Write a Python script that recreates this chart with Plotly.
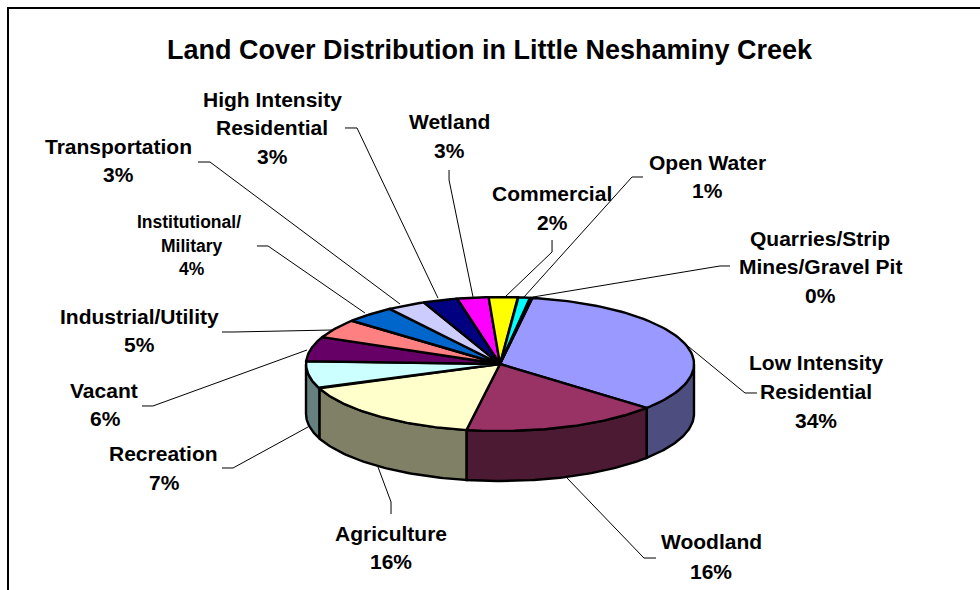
import numpy as np
import plotly.graph_objects as go

categories = ["Low Intensity\nResidential", "Woodland", "Agriculture", "Recreation", "Vacant",
              "Industrial/Utility", "Institutional/\nMilitary", "Transportation",
              "High Intensity\nResidential", "Wetland", "Commercial", "Open Water",
              "Quarries/Strip\nMines/Gravel Pit"]
values = [33.7, 16.4, 16.3, 6.6, 5.9, 4.6, 4.2, 3.2, 2.9, 2.6, 2.4, 1.0, 0.2]
top_colors = ["#9999FF", "#993366", "#FFFFCC", "#CCFFFF", "#660066", "#FF8080", "#0066CC",
              "#CCCCFF", "#000080", "#FF00FF", "#FFFF00", "#00FFFF", "#800080"]
side_colors = ["#4D4D80", "#4D1A33", "#808066", "#668080", "#330033", "#804040", "#003366",
               "#666680", "#000040", "#800080", "#808000", "#008080", "#400040"]

W, H = 980, 590
CX, CY, RX, RY, DEPTH = 500, 364, 194, 67, 50
START = 9.6
label_pos = [
    [(816, 362), (816, 391), (816, 420)],
    [(711, 541), (711, 571)],
    [(391, 533), (391, 561)],
    [(163, 453), (164, 482)],
    [(104, 390), (105, 418)],
    [(139, 316), (139, 344)],
    [(189, 222), (192, 246), (192, 269)],
    [(118, 146), (118, 174)],
    [(272, 99), (272, 127), (272, 156)],
    [(449, 122), (449, 150)],
    [(552, 193), (552, 222)],
    [(707, 162), (707, 190)],
    [(820, 238), (820, 266), (820, 295)],
]
leaders = [
    [(757, 393), (745, 393), (683, 342)],
    [(656, 558), (644, 558), (567, 478)],
    [(391, 514), (391, 502), (378, 467)],
    [(222, 468), (233, 468), (308, 427)],
    [(142, 406), (153, 406), (307, 350)],
    [(222, 332), (234, 332), (333, 330)],
    [(257, 246), (268, 246), (365, 313)],
    [(198, 162), (210, 162), (400, 304)],
    [(345, 128), (357, 128), (438, 298)],
    [(449, 170), (449, 180), (473, 297)],
    [(552, 240), (552, 252), (505, 297)],
    [(643, 177), (632, 177), (524, 297)],
    [(730, 266), (720, 266), (533, 297)],
]

def ex(t):
    return np.sin(np.radians(t))

def ey(t):
    return np.cos(np.radians(t))

edges = START + np.concatenate([[0], np.cumsum(values)]) * 3.6
fig = go.Figure()
LW = 2.4

drop = DEPTH / RY
for i in range(len(values)):
    a, b = max(edges[i], 90), min(edges[i + 1], 270)
    if b <= a:
        continue
    t = np.linspace(a, b, 60)
    xs = np.concatenate([ex(t), ex(t[::-1]), ex(t[:1])])
    ys = np.concatenate([ey(t), ey(t[::-1]) - drop, ey(t[:1])])
    fig.add_trace(go.Scatter(x=xs, y=ys, mode="lines", fill="toself", fillcolor=side_colors[i],
                             line=dict(color="black", width=LW), hoverinfo="skip", showlegend=False))

for i in range(len(values)):
    t = np.linspace(edges[i], edges[i + 1], 80)
    xs = np.concatenate([[0], ex(t), [0]])
    ys = np.concatenate([[0], ey(t), [0]])
    fig.add_trace(go.Scatter(x=xs, y=ys, mode="lines", fill="toself", fillcolor=top_colors[i],
                             line=dict(color="black", width=LW), name=categories[i].replace("\n", " "),
                             hoverinfo="skip", showlegend=False))

shapes = [
    dict(type="line", xref="paper", yref="paper", x0=8 / W, x1=8 / W, y0=0, y1=1 - 7 / H,
         line=dict(color="black", width=2)),
    dict(type="line", xref="paper", yref="paper", x0=7 / W, x1=1, y0=1 - 8 / H, y1=1 - 8 / H,
         line=dict(color="black", width=2)),
]
for pts in leaders:
    path = "M " + " L ".join(f"{x / W:.4f} {1 - y / H:.4f}" for x, y in pts)
    shapes.append(dict(type="path", xref="paper", yref="paper", path=path,
                       line=dict(color="black", width=1)))

annotations = [dict(text="<b>Land Cover Distribution in Little Neshaminy Creek</b>",
                    xref="paper", yref="paper", x=490 / W, y=1 - 50 / H, showarrow=False,
                    xanchor="center", yanchor="middle",
                    font=dict(family="Liberation Sans", size=27, color="black"))]
for i, name in enumerate(categories):
    lines = name.split("\n") + [f"{round(values[i])}%"]
    size = 17.5 if name.startswith("Institutional") else 21
    for line, (x, y) in zip(lines, label_pos[i]):
        annotations.append(dict(text=f"<b>{line}</b>", xref="paper", yref="paper", x=x / W, y=1 - y / H,
                                showarrow=False, xanchor="center", yanchor="middle",
                                font=dict(family="Liberation Sans", size=size, color="black")))

fig.update_layout(
    width=W, height=H, margin=dict(l=0, r=0, t=0, b=0), paper_bgcolor="white", plot_bgcolor="white",
    xaxis=dict(range=[(0 - CX) / RX, (W - CX) / RX], visible=False, fixedrange=True),
    yaxis=dict(range=[(CY - H) / RY, CY / RY], visible=False, fixedrange=True),
    shapes=shapes, annotations=annotations, showlegend=False,
)
fig.write_html("out.html", config=dict(displayModeBar=False),
               post_script="document.body.style.margin='0';document.body.style.overflow='hidden';")
